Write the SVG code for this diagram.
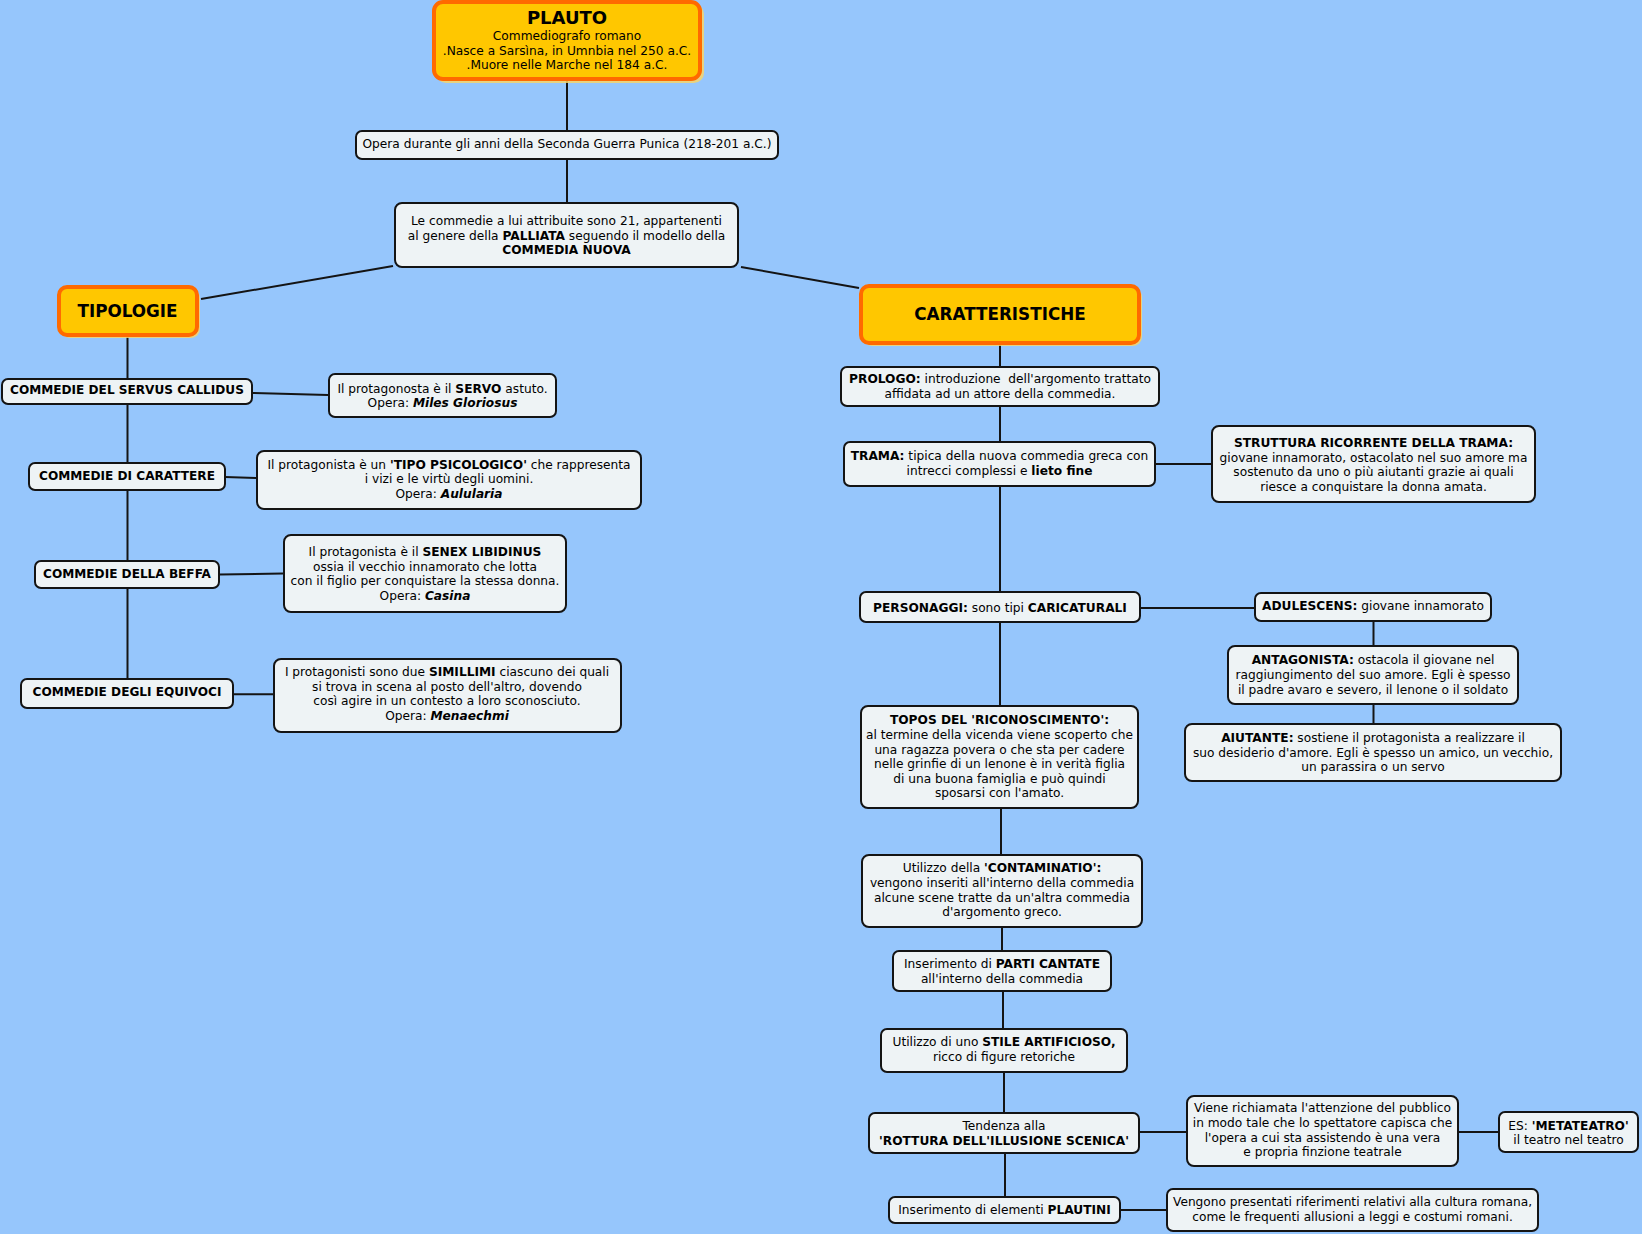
<svg xmlns="http://www.w3.org/2000/svg" width="1642" height="1234" viewBox="0 0 1642 1234">
<style>
.bg{fill:#96C6FC}
.n{fill:#EEF3F5;stroke:#141414;stroke-width:2}
.m{fill:#FFC700;stroke:#FF6A00;stroke-width:4}
.sh{fill:#F6D56A;opacity:0.85}
.c{fill:none;stroke:#141414;stroke-width:2}
.t{font-family:"DejaVu Sans",Verdana,sans-serif;font-size:12.2px;fill:#000;text-anchor:middle}
.b{font-weight:bold}
.bi{font-weight:bold;font-style:italic}
.big{font-size:16.8px;font-weight:bold}
.cap{font-size:12.1px}
</style>
<rect class="bg" x="0" y="0" width="1642" height="1234"/>
<g id="connectors">
<path class="c" d="M567,81V130"/>
<path class="c" d="M567,160V202"/>
<path class="c" d="M393,266L201,299"/>
<path class="c" d="M741,267L859,288"/>
<path class="c" d="M1000,345V366"/>
<path class="c" d="M1000,407V441"/>
<path class="c" d="M1156,464H1211"/>
<path class="c" d="M1000,487V591"/>
<path class="c" d="M1141,608H1254"/>
<path class="c" d="M1373.5,622V645"/>
<path class="c" d="M1373.5,704V723"/>
<path class="c" d="M1000,623V705"/>
<path class="c" d="M1001,808V854"/>
<path class="c" d="M1002,928V950"/>
<path class="c" d="M1003,991V1028"/>
<path class="c" d="M1004,1073V1112"/>
<path class="c" d="M1140,1132H1186"/>
<path class="c" d="M1458,1132H1498"/>
<path class="c" d="M1005,1154V1196"/>
<path class="c" d="M1121,1210H1166"/>
<path class="c" d="M127.5,337V378"/>
<path class="c" d="M253,393L328,395"/>
<path class="c" d="M127.5,404V462"/>
<path class="c" d="M225,477L256,478"/>
<path class="c" d="M127.5,490V560"/>
<path class="c" d="M219.5,574.5L283,573.5"/>
<path class="c" d="M127.5,588V678"/>
<path class="c" d="M233.5,694.3H273"/>
</g>
<g id="plauto">
<rect class="sh" x="436" y="4" width="268" height="79" rx="10"/>
<rect class="m" x="434" y="2" width="266" height="77" rx="9"/>
<text class="t"><tspan x="567" y="24" style="font-size:18px;font-weight:bold">PLAUTO</tspan><tspan x="567" y="40">Commediografo romano</tspan><tspan x="567" y="55">.Nasce a Sarsìna, in Umnbia nel 250 a.C.</tspan><tspan x="567" y="69">.Muore nelle Marche nel 184 a.C.</tspan></text>
</g>
<g id="opera">
<rect class="n" x="356" y="131" width="422" height="28" rx="6"/>
<text class="t" x="567" y="148">Opera durante gli anni della Seconda Guerra Punica (218-201 a.C.)</text>
</g>
<g id="commedie">
<rect class="n" x="395" y="203" width="343" height="64" rx="7"/>
<text class="t"><tspan x="566.5" y="225">Le commedie a lui attribuite sono 21, appartenenti</tspan><tspan x="566.5" y="239.6">al genere della <tspan class="b">PALLIATA</tspan> seguendo il modello della</tspan><tspan x="566.5" y="254.2" class="b">COMMEDIA NUOVA</tspan></text>
</g>
<g id="tipologie">
<rect class="sh" x="61" y="289" width="139" height="49" rx="9"/>
<rect class="m" x="59" y="287" width="138" height="48" rx="8"/>
<text class="t big" x="127.5" y="317">TIPOLOGIE</text>
</g>
<g id="caratteristiche">
<rect class="sh" x="863" y="288" width="279" height="58" rx="9"/>
<rect class="m" x="861" y="286" width="278" height="57" rx="8"/>
<text class="t big" x="1000" y="320">CARATTERISTICHE</text>
</g>
<g id="prologo">
<rect class="n" x="841" y="367" width="318" height="39" rx="6"/>
<text class="t"><tspan x="1000" y="383"><tspan class="b">PROLOGO:</tspan> introduzione&#160; dell'argomento trattato</tspan><tspan x="1000" y="397.6">affidata ad un attore della commedia.</tspan></text>
</g>
<g id="trama">
<rect class="n" x="844" y="442" width="311" height="44" rx="6"/>
<text class="t"><tspan x="999.5" y="460"><tspan class="b">TRAMA:</tspan> tipica della nuova commedia greca con</tspan><tspan x="999.5" y="475">intrecci complessi e <tspan class="b">lieto fine</tspan></tspan></text>
</g>
<g id="struttura">
<rect class="n" x="1212" y="426" width="323" height="76" rx="7"/>
<text class="t"><tspan x="1373.5" y="447" class="b">STRUTTURA RICORRENTE DELLA TRAMA:</tspan><tspan x="1373.5" y="461.6">giovane innamorato, ostacolato nel suo amore ma</tspan><tspan x="1373.5" y="476.2">sostenuto da uno o più aiutanti grazie ai quali</tspan><tspan x="1373.5" y="490.8">riesce a conquistare la donna amata.</tspan></text>
</g>
<g id="personaggi">
<rect class="n" x="860" y="592" width="280" height="30" rx="6"/>
<text class="t" x="1000" y="612"><tspan class="b">PERSONAGGI:</tspan> sono tipi <tspan class="b">CARICATURALI</tspan></text>
</g>
<g id="adulescens">
<rect class="n" x="1255" y="593" width="236" height="28" rx="6"/>
<text class="t" x="1373" y="610.4"><tspan class="b">ADULESCENS:</tspan> giovane innamorato</text>
</g>
<g id="antagonista">
<rect class="n" x="1228" y="646" width="290" height="58" rx="7"/>
<text class="t"><tspan x="1373" y="664.3"><tspan class="b">ANTAGONISTA:</tspan> ostacola il giovane nel</tspan><tspan x="1373" y="678.9">raggiungimento del suo amore. Egli è spesso</tspan><tspan x="1373" y="693.5">il padre avaro e severo, il lenone o il soldato</tspan></text>
</g>
<g id="aiutante">
<rect class="n" x="1185" y="724" width="376" height="57" rx="7"/>
<text class="t"><tspan x="1373" y="742"><tspan class="b">AIUTANTE:</tspan> sostiene il protagonista a realizzare il</tspan><tspan x="1373" y="756.6">suo desiderio d'amore. Egli è spesso un amico, un vecchio,</tspan><tspan x="1373" y="771.2">un parassira o un servo</tspan></text>
</g>
<g id="topos">
<rect class="n" x="861" y="706" width="277" height="102" rx="7"/>
<text class="t"><tspan x="999.5" y="724.3" class="b">TOPOS DEL 'RICONOSCIMENTO':</tspan><tspan x="999.5" y="738.9">al termine della vicenda viene scoperto che</tspan><tspan x="999.5" y="753.5">una ragazza povera o che sta per cadere</tspan><tspan x="999.5" y="768.1">nelle grinfie di un lenone è in verità figlia</tspan><tspan x="999.5" y="782.7">di una buona famiglia e può quindi</tspan><tspan x="999.5" y="797.3">sposarsi con l'amato.</tspan></text>
</g>
<g id="contaminatio">
<rect class="n" x="862" y="855" width="280" height="72" rx="7"/>
<text class="t"><tspan x="1002" y="872.3">Utilizzo della <tspan class="b">'CONTAMINATIO':</tspan></tspan><tspan x="1002" y="886.9">vengono inseriti all'interno della commedia</tspan><tspan x="1002" y="901.5">alcune scene tratte da un'altra commedia</tspan><tspan x="1002" y="916.1">d'argomento greco.</tspan></text>
</g>
<g id="parti-cantate">
<rect class="n" x="893" y="951" width="218" height="40" rx="6"/>
<text class="t"><tspan x="1002" y="968">Inserimento di <tspan class="b">PARTI CANTATE</tspan></tspan><tspan x="1002" y="983">all'interno della commedia</tspan></text>
</g>
<g id="stile">
<rect class="n" x="881" y="1029" width="246" height="43" rx="6"/>
<text class="t"><tspan x="1004" y="1046.3">Utilizzo di uno <tspan class="b">STILE ARTIFICIOSO,</tspan></tspan><tspan x="1004" y="1061">ricco di figure retoriche</tspan></text>
</g>
<g id="rottura">
<rect class="n" x="869" y="1113" width="270" height="40" rx="6"/>
<text class="t"><tspan x="1004" y="1130.3">Tendenza alla</tspan><tspan x="1004" y="1144.9" class="b">'ROTTURA DELL'ILLUSIONE SCENICA'</tspan></text>
</g>
<g id="viene">
<rect class="n" x="1187" y="1096" width="271" height="70" rx="7"/>
<text class="t"><tspan x="1322.5" y="1112.3">Viene richiamata l'attenzione del pubblico</tspan><tspan x="1322.5" y="1126.9">in modo tale che lo spettatore capisca che</tspan><tspan x="1322.5" y="1141.5">l'opera a cui sta assistendo è una vera</tspan><tspan x="1322.5" y="1156.1">e propria finzione teatrale</tspan></text>
</g>
<g id="metateatro">
<rect class="n" x="1499" y="1112" width="139" height="40" rx="6"/>
<text class="t"><tspan x="1568.5" y="1129.6">ES: <tspan class="b">'METATEATRO'</tspan></tspan><tspan x="1568.5" y="1144.2">il teatro nel teatro</tspan></text>
</g>
<g id="plautini">
<rect class="n" x="889" y="1197" width="231" height="26" rx="6"/>
<text class="t" x="1004.5" y="1214">Inserimento di elementi <tspan class="b">PLAUTINI</tspan></text>
</g>
<g id="vengono">
<rect class="n" x="1167" y="1189" width="371" height="42" rx="6"/>
<text class="t"><tspan x="1352.5" y="1206.3">Vengono presentati riferimenti relativi alla cultura romana,</tspan><tspan x="1352.5" y="1221">come le frequenti allusioni a leggi e costumi romani.</tspan></text>
</g>
<g id="servus">
<rect class="n" x="2" y="379" width="250" height="25" rx="6"/>
<text class="t b cap" x="127" y="394.4">COMMEDIE DEL SERVUS CALLIDUS</text>
</g>
<g id="servo">
<rect class="n" x="329" y="374" width="227" height="43" rx="6"/>
<text class="t"><tspan x="442.5" y="392.6">Il protagonosta è il <tspan class="b">SERVO</tspan> astuto.</tspan><tspan x="442.5" y="407.4">Opera: <tspan class="bi">Miles Gloriosus</tspan></tspan></text>
</g>
<g id="carattere">
<rect class="n" x="29" y="463" width="196" height="27" rx="6"/>
<text class="t b cap" x="127" y="479.7">COMMEDIE DI CARATTERE</text>
</g>
<g id="tipo">
<rect class="n" x="257" y="451" width="384" height="58" rx="7"/>
<text class="t"><tspan x="449" y="468.6">Il protagonista è un <tspan class="b">'TIPO PSICOLOGICO'</tspan> che rappresenta</tspan><tspan x="449" y="483.2">i vizi e le virtù degli uomini.</tspan><tspan x="449" y="497.8">Opera: <tspan class="bi">Aulularia</tspan></tspan></text>
</g>
<g id="beffa">
<rect class="n" x="35" y="561" width="184" height="27" rx="6"/>
<text class="t b cap" x="127" y="578">COMMEDIE DELLA BEFFA</text>
</g>
<g id="senex">
<rect class="n" x="284" y="535" width="282" height="77" rx="7"/>
<text class="t"><tspan x="425" y="556">Il protagonista è il <tspan class="b">SENEX LIBIDINUS</tspan></tspan><tspan x="425" y="570.6">ossia il vecchio innamorato che lotta</tspan><tspan x="425" y="585.2">con il figlio per conquistare la stessa donna.</tspan><tspan x="425" y="599.8">Opera: <tspan class="bi">Casina</tspan></tspan></text>
</g>
<g id="equivoci">
<rect class="n" x="21" y="679" width="212" height="29" rx="6"/>
<text class="t b cap" x="127" y="696">COMMEDIE DEGLI EQUIVOCI</text>
</g>
<g id="simillimi">
<rect class="n" x="274" y="659" width="347" height="73" rx="7"/>
<text class="t"><tspan x="447" y="676">I protagonisti sono due <tspan class="b">SIMILLIMI</tspan> ciascuno dei quali</tspan><tspan x="447" y="690.6">si trova in scena al posto dell'altro, dovendo</tspan><tspan x="447" y="705.2">così agire in un contesto a loro sconosciuto.</tspan><tspan x="447" y="719.8">Opera: <tspan class="bi">Menaechmi</tspan></tspan></text>
</g>
</svg>
